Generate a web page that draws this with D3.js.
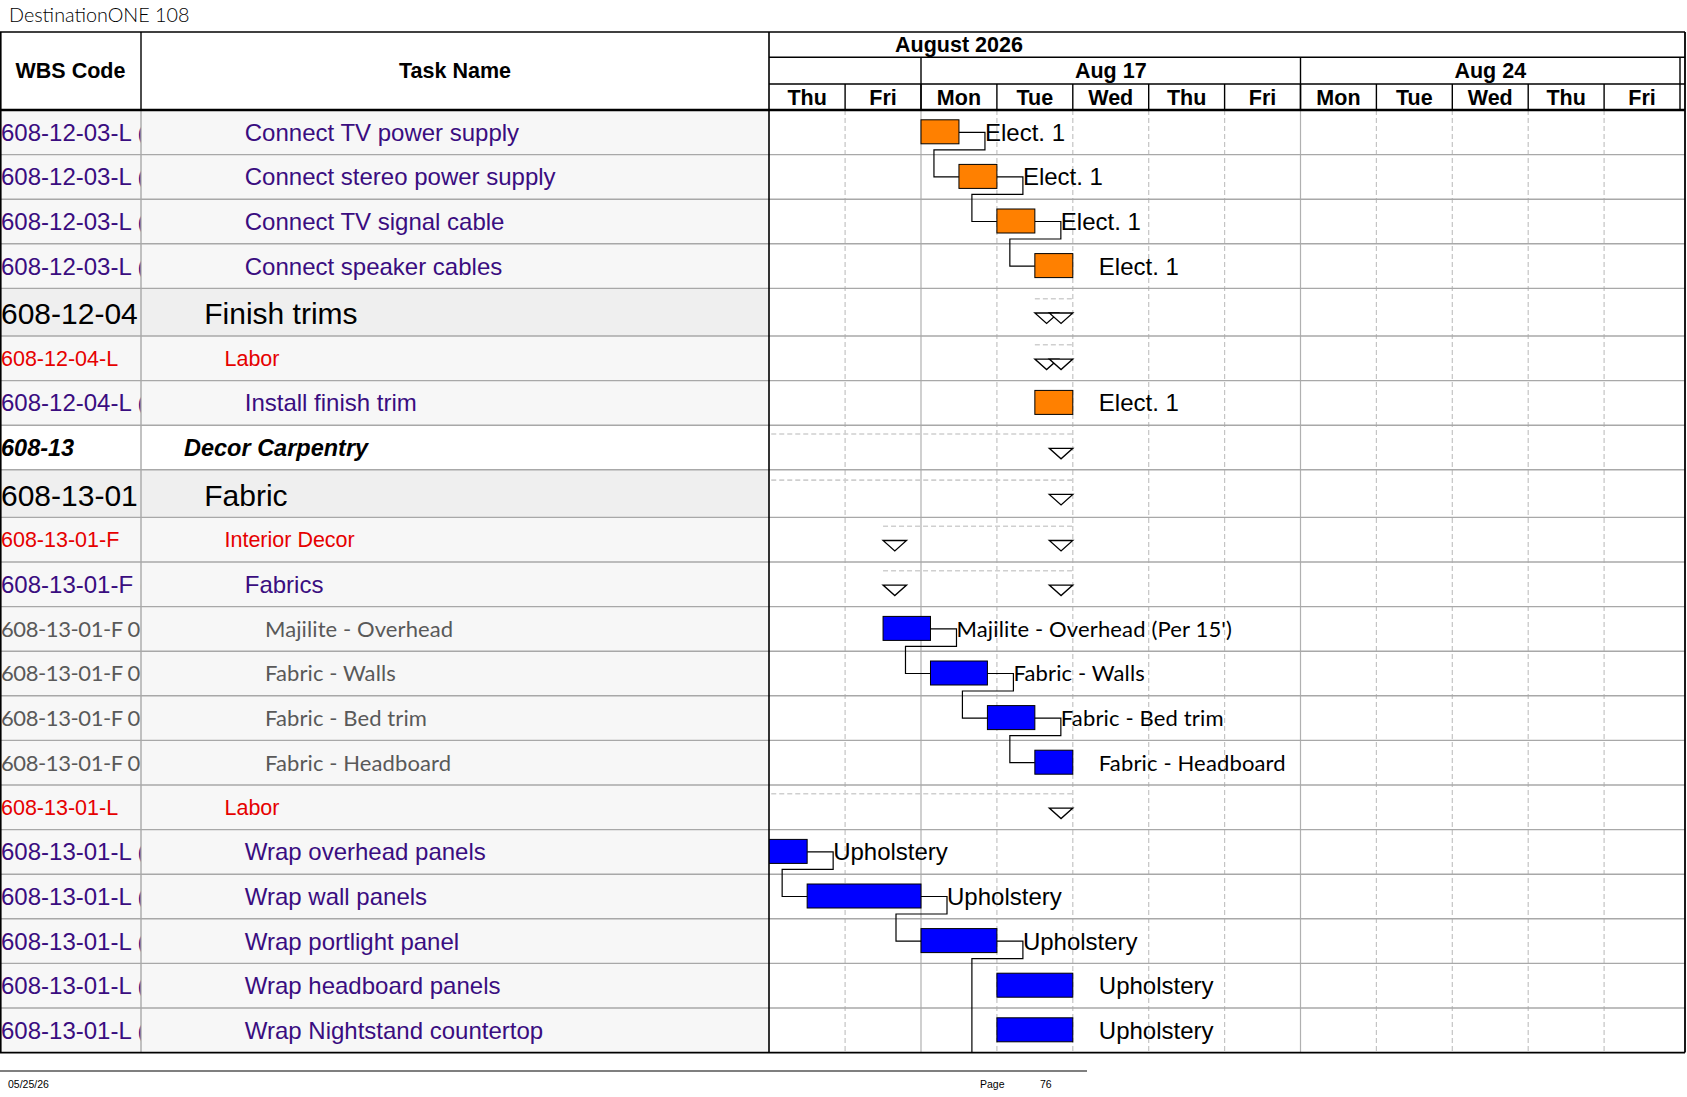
<!DOCTYPE html>
<html>
<head>
<meta charset="utf-8">
<title>DestinationONE 108</title>
<script src="https://cdn.jsdelivr.net/npm/d3@7"></script>
<style>
  body { margin: 0; background: #fff; }
  svg { display: block; }
</style>
</head>
<body>
<div id="chart"></div>
<script>
// data
const workDays = ["2026-08-13", "2026-08-14", "2026-08-17", "2026-08-18", "2026-08-19", "2026-08-20",
                  "2026-08-21", "2026-08-24", "2026-08-25", "2026-08-26", "2026-08-27", "2026-08-28"];

const wbsCodes = ["608-12-03-L (01)", "608-12-03-L (02)", "608-12-03-L (03)", "608-12-03-L (04)",
                  "608-12-04", "608-12-04-L", "608-12-04-L (01)", "608-13", "608-13-01", "608-13-01-F",
                  "608-13-01-F (01)", "608-13-01-F 0101", "608-13-01-F 0102", "608-13-01-F 0103",
                  "608-13-01-F 0104", "608-13-01-L", "608-13-01-L (01)", "608-13-01-L (02)",
                  "608-13-01-L (03)", "608-13-01-L (04)", "608-13-01-L (05)"];

const taskNames = ["Connect TV power supply", "Connect stereo power supply", "Connect TV signal cable",
                   "Connect speaker cables", "Finish trims", "Labor", "Install finish trim", "Decor Carpentry",
                   "Fabric", "Interior Decor", "Fabrics", "Majilite - Overhead", "Fabric - Walls",
                   "Fabric - Bed trim", "Fabric - Headboard", "Labor", "Wrap overhead panels",
                   "Wrap wall panels", "Wrap portlight panel", "Wrap headboard panels", "Wrap Nightstand countertop"];

const outlineLevels = [5, 5, 5, 5, 3, 4, 5, 2, 3, 4, 5, 6, 6, 6, 6, 4, 5, 5, 5, 5, 5];
const isSummary     = [0, 0, 0, 0, 1, 1, 0, 1, 1, 1, 1, 0, 0, 0, 0, 1, 0, 0, 0, 0, 0];

// start / finish in working days counted from Thu Aug 13 8:00
const startDays  = [2, 2.5, 3, 3.5, 3.5, 3.5, 3.5, -0.5, -0.5, 1.5, 1.5, 1.5, 2.125, 2.875, 3.5, -0.5, -0.5, 0.5, 2, 3, 3];
const finishDays = [2.5, 3, 3.5, 4, 4, 4, 4, 4, 4, 4, 4, 2.125, 2.875, 3.5, 4, 4, 0.5, 2, 3, 4, 4];

const barLabels = ["Elect. 1", "Elect. 1", "Elect. 1", "Elect. 1", "", "", "Elect. 1", "", "", "", "",
                   "Majilite - Overhead (Per 15')", "Fabric - Walls", "Fabric - Bed trim", "Fabric - Headboard", "",
                   "Upholstery", "Upholstery", "Upholstery", "Upholstery", "Upholstery"];

// finish-to-start links, null = successor on a later page
const links = [[0, 1], [1, 2], [2, 3], [11, 12], [12, 13], [13, 14], [16, 17], [17, 18], [18, null]];

const groups = ["608-12", "608-13"];
const groupColors = ["#ff8000", "#0000ff"];

const W = 1687, H = 1097;
const wbsRight = 141, tableRight = 769, chartRight = 1685;
const headTop = 32, monthBottom = 57.3, weekBottom = 84, headBottom = 110;

const ARIAL = "'Liberation Sans', Arial, sans-serif";
const CALIBRI = "Lato, Carlito, Calibri, sans-serif";
const PURPLE = "#3a0d80";

const svg = d3.select("#chart").append("svg")
    .attr("width", W)
    .attr("height", H);

const parse = d3.timeParse("%Y-%m-%d");
const dates = workDays.map(parse);
const x = d3.scaleLinear().domain([0, dates.length]).range([769.2, 1680]);
const barColor = d3.scaleOrdinal().domain(groups).range(groupColors);

const rowH = outlineLevels.map(l => l === 3 ? 47.6 : 44.6);
const rowTop = Array.from(d3.cumsum([0].concat(rowH)), v => headBottom + v);
const n = taskNames.length;
const bodyBottom = rowTop[n];
const mid = i => (rowTop[i] + rowTop[i + 1]) / 2;

function rowStyle(lvl) {
    if (lvl === 2) return {family: ARIAL, size: 23.5, weight: "bold", fstyle: "italic", color: "#000", bg: "#fff"};
    if (lvl === 3) return {family: ARIAL, size: 30, weight: "normal", fstyle: "normal", color: "#000", bg: "#efefef"};
    if (lvl === 4) return {family: ARIAL, size: 21.5, weight: "normal", fstyle: "normal", color: "#e60000", bg: "#f7f7f7"};
    if (lvl === 6) return {family: CALIBRI, size: 22, weight: "normal", fstyle: "normal", color: "#595959", bg: "#f7f7f7"};
    return {family: ARIAL, size: 24, weight: "normal", fstyle: "normal", color: PURPLE, bg: "#f7f7f7"};
}

const defs = svg.append("defs");
defs.append("clipPath").attr("id", "clipWbs").append("rect")
    .attr("x", 0).attr("y", headBottom).attr("width", wbsRight).attr("height", bodyBottom - headBottom);
defs.append("clipPath").attr("id", "clipName").append("rect")
    .attr("x", wbsRight).attr("y", headBottom).attr("width", tableRight - wbsRight).attr("height", bodyBottom - headBottom);
defs.append("clipPath").attr("id", "clipChart").append("rect")
    .attr("x", tableRight).attr("y", headBottom).attr("width", chartRight - tableRight).attr("height", bodyBottom - headBottom);

// title
svg.append("text")
    .attr("x", 9).attr("y", 22)
    .attr("font-family", CALIBRI).attr("font-weight", 300).attr("font-size", 19.8)
    .attr("fill", "#000")
    .text("DestinationONE 108");

// ---------- table body ----------
const rows = d3.range(n);

svg.append("g").selectAll("rect")
    .data(rows).enter().append("rect")
    .attr("x", 0).attr("y", i => rowTop[i])
    .attr("width", tableRight).attr("height", i => rowH[i])
    .attr("fill", i => rowStyle(outlineLevels[i]).bg);

function cellText(g, xpos, textOf, spacing) {
    g.selectAll("text")
        .data(rows).enter().append("text")
        .attr("x", xpos)
        .attr("y", i => mid(i) + rowStyle(outlineLevels[i]).size * 0.358 + (outlineLevels[i] === 3 ? 1.5 : 0))
        .attr("font-family", i => rowStyle(outlineLevels[i]).family)
        .attr("font-size", i => rowStyle(outlineLevels[i]).size)
        .attr("font-weight", i => rowStyle(outlineLevels[i]).weight)
        .attr("font-style", i => rowStyle(outlineLevels[i]).fstyle)
        .attr("letter-spacing", i => outlineLevels[i] === 6 ? spacing : null)
        .attr("fill", i => rowStyle(outlineLevels[i]).color)
        .text(textOf);
}

cellText(svg.append("g").attr("clip-path", "url(#clipWbs)"), 1, i => wbsCodes[i], -0.4);
cellText(svg.append("g").attr("clip-path", "url(#clipName)"),
    i => 184 + (outlineLevels[i] - 2) * 20.25, i => taskNames[i], 0.1);

// ---------- chart gridlines ----------
const grid = svg.append("g");
d3.range(1, dates.length).forEach(function (i) {
    const monday = dates[i].getDay() === 1;
    grid.append("line")
        .attr("x1", x(i)).attr("x2", x(i))
        .attr("y1", headBottom).attr("y2", bodyBottom)
        .attr("stroke", monday ? "#b0b0b0" : "#c4c4c4")
        .attr("stroke-width", 1.2)
        .attr("stroke-dasharray", monday ? null : "5,3");
});

// row separators across table and chart
svg.append("g").selectAll("line")
    .data(rows.slice(1)).enter().append("line")
    .attr("x1", 0).attr("x2", chartRight)
    .attr("y1", i => rowTop[i]).attr("y2", i => rowTop[i])
    .attr("stroke", "#a8a8a8").attr("stroke-width", 1.4);

svg.append("line")
    .attr("x1", wbsRight).attr("x2", wbsRight).attr("y1", headBottom).attr("y2", bodyBottom)
    .attr("stroke", "#a8a8a8").attr("stroke-width", 1.4);

// ---------- gantt marks ----------
const gantt = svg.append("g").attr("clip-path", "url(#clipChart)");
const summaryRows = rows.filter(i => isSummary[i]);
const taskRows = rows.filter(i => !isSummary[i]);

gantt.selectAll(".sumline")
    .data(summaryRows).enter().append("line")
    .attr("class", "sumline")
    .attr("x1", i => x(startDays[i])).attr("x2", i => x(finishDays[i]))
    .attr("y1", i => mid(i) - 13.5).attr("y2", i => mid(i) - 13.5)
    .attr("stroke", "#cfcfcf").attr("stroke-width", 1.6)
    .attr("stroke-dasharray", "5,3");

const triW = 23.5;
function tri(x0, cy) {
    return "M" + x0 + "," + (cy + 0.8) + "h" + triW + "l" + (-triW / 2) + ",10.5z";
}
gantt.selectAll(".tri")
    .data(summaryRows.flatMap(i => [{i: i, x0: x(startDays[i])}, {i: i, x0: x(finishDays[i]) - triW}]))
    .enter().append("path")
    .attr("class", "tri")
    .attr("d", d => tri(d.x0, mid(d.i)))
    .attr("fill", "#fff").attr("stroke", "#000").attr("stroke-width", 1.3);

gantt.selectAll(".link")
    .data(links).enter().append("path")
    .attr("class", "link")
    .attr("d", function (d) {
        const a = d[0], b = d[1];
        const xe = x(finishDays[a]), cy = mid(a);
        let p = "M" + xe + "," + cy + "H" + (xe + 26) + "V" + (cy + 17.5) + "H" + (xe - 25);
        if (b === null) return p + "V" + bodyBottom;
        return p + "V" + mid(b) + "H" + x(startDays[b]);
    })
    .attr("fill", "none").attr("stroke", "#000").attr("stroke-width", 1.2);

gantt.selectAll(".bar")
    .data(taskRows).enter().append("rect")
    .attr("class", "bar")
    .attr("x", i => x(startDays[i]))
    .attr("y", i => mid(i) - 12.5)
    .attr("width", i => x(finishDays[i]) - x(startDays[i]))
    .attr("height", 24)
    .attr("fill", i => barColor(wbsCodes[i].slice(0, 6)))
    .attr("stroke", "#000").attr("stroke-width", 1);

gantt.selectAll(".blabel")
    .data(taskRows).enter().append("text")
    .attr("class", "blabel")
    .attr("x", i => x(finishDays[i]) + 26)
    .attr("y", i => mid(i) + rowStyle(outlineLevels[i]).size * 0.358)
    .attr("font-family", i => rowStyle(outlineLevels[i]).family)
    .attr("font-size", i => rowStyle(outlineLevels[i]).size)
    .attr("letter-spacing", i => outlineLevels[i] === 6 ? 0.15 : null)
    .attr("fill", "#000")
    .text(i => barLabels[i]);

// ---------- header ----------
const head = svg.append("g");
const bold = t => t.attr("font-family", ARIAL).attr("font-weight", "bold").attr("font-size", 21.5)
    .attr("text-anchor", "middle").attr("fill", "#000");

head.append("text").attr("x", wbsRight / 2).attr("y", 78).text("WBS Code").call(bold);
head.append("text").attr("x", (wbsRight + tableRight) / 2).attr("y", 78).text("Task Name").call(bold);

head.append("text").attr("x", x(2.5)).attr("y", 51.7)
    .text(d3.timeFormat("%B %Y")(dates[0])).call(bold);

const weeks = d3.groups(d3.range(dates.length), i => +d3.timeMonday.floor(dates[i]));
const fmtWeek = d3.timeFormat("%b %-d");
weeks.forEach(function (w) {
    const idx = w[1], first = idx[0], last = idx[idx.length - 1] + 1;
    const monday = new Date(w[0]);
    const label = dates[first].getDay() === 1 ? fmtWeek(monday) : "";
    head.append("text").attr("x", (x(first) + x(last)) / 2).attr("y", 78.3).text(label).call(bold);
    head.append("line")
        .attr("x1", x(last)).attr("x2", x(last)).attr("y1", monthBottom).attr("y2", headBottom)
        .attr("stroke", "#000").attr("stroke-width", 1.4);
});

const fmtDay = d3.timeFormat("%a");
head.selectAll(".day")
    .data(dates).enter().append("text")
    .attr("class", "day")
    .attr("x", (d, i) => x(i + 0.5)).attr("y", 105)
    .text(d => fmtDay(d)).call(bold);

head.selectAll(".dayline")
    .data(d3.range(1, dates.length)).enter().append("line")
    .attr("class", "dayline")
    .attr("x1", i => x(i)).attr("x2", i => x(i))
    .attr("y1", weekBottom).attr("y2", headBottom)
    .attr("stroke", "#000").attr("stroke-width", 1.4);

[[tableRight, chartRight, monthBottom], [tableRight, chartRight, weekBottom]].forEach(function (l) {
    head.append("line").attr("x1", l[0]).attr("x2", l[1]).attr("y1", l[2]).attr("y2", l[2])
        .attr("stroke", "#000").attr("stroke-width", 1.4);
});

head.append("line").attr("x1", wbsRight).attr("x2", wbsRight).attr("y1", headTop).attr("y2", headBottom)
    .attr("stroke", "#000").attr("stroke-width", 1.4);

// outer borders
const border = svg.append("g").attr("stroke", "#000").attr("fill", "none");
border.append("line").attr("x1", 0).attr("x2", chartRight).attr("y1", headTop).attr("y2", headTop).attr("stroke-width", 1.5);
border.append("line").attr("x1", 0).attr("x2", chartRight).attr("y1", headBottom).attr("y2", headBottom).attr("stroke-width", 2.6);
border.append("line").attr("x1", 0).attr("x2", chartRight).attr("y1", bodyBottom).attr("y2", bodyBottom).attr("stroke-width", 1.8);
border.append("line").attr("x1", 0.8).attr("x2", 0.8).attr("y1", headTop).attr("y2", bodyBottom).attr("stroke-width", 1.6);
border.append("line").attr("x1", tableRight).attr("x2", tableRight).attr("y1", headTop).attr("y2", bodyBottom).attr("stroke-width", 1.6);
border.append("line").attr("x1", chartRight).attr("x2", chartRight).attr("y1", headTop).attr("y2", bodyBottom).attr("stroke-width", 1.8);

// footer
svg.append("line").attr("x1", 0).attr("x2", 1087).attr("y1", 1071).attr("y2", 1071)
    .attr("stroke", "#000").attr("stroke-width", 1.2);
const foot = t => t.attr("font-family", ARIAL).attr("font-size", 10.5).attr("fill", "#000");
svg.append("text").attr("x", 8).attr("y", 1088).text("05/25/26").call(foot);
svg.append("text").attr("x", 980).attr("y", 1088).text("Page").call(foot);
svg.append("text").attr("x", 1040).attr("y", 1088).text("76").call(foot);
</script>
</body>
</html>
